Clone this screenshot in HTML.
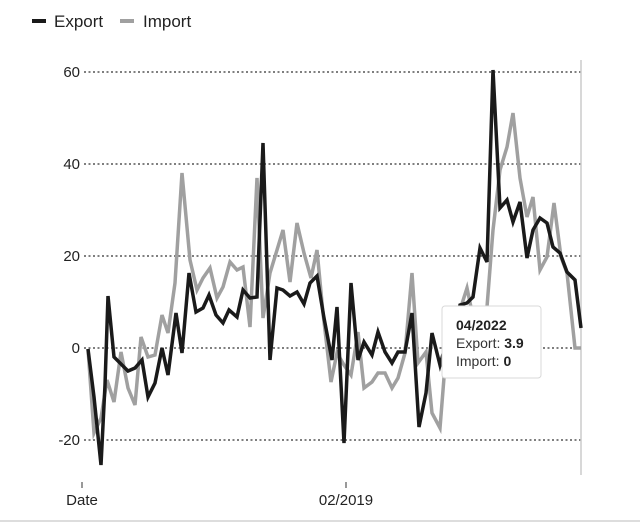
<!DOCTYPE html>
<html><head><style>body{margin:0;background:#fff;}svg{display:block;font-family:"Liberation Sans",sans-serif;}</style></head>
<body>
<svg width="640" height="523" viewBox="0 0 640 523">
<rect width="640" height="523" fill="#fff"/>
<line x1="32" y1="21" x2="46" y2="21" stroke="#1a1a1a" stroke-width="4"/>
<text x="54" y="27" font-size="17" fill="#222">Export</text>
<line x1="120" y1="21" x2="134" y2="21" stroke="#a0a0a0" stroke-width="4"/>
<text x="143" y="27" font-size="17" fill="#222">Import</text>
<g stroke="#333" stroke-width="1.2" stroke-dasharray="2,2.5">
<line x1="84" y1="72" x2="581" y2="72"/><line x1="84" y1="164" x2="581" y2="164"/><line x1="84" y1="256" x2="581" y2="256"/><line x1="84" y1="348" x2="581" y2="348"/><line x1="84" y1="440" x2="581" y2="440"/>
</g>
<g font-size="15" fill="#222" text-anchor="end">
<text x="80" y="77">60</text><text x="80" y="169">40</text><text x="80" y="261">20</text><text x="80" y="353">0</text><text x="80" y="445">-20</text>
</g>
<line x1="581" y1="60" x2="581" y2="475" stroke="#ccc" stroke-width="1.5"/>
<line x1="0" y1="521" x2="640" y2="521" stroke="#ddd" stroke-width="2"/>
<line x1="82" y1="482" x2="82" y2="488" stroke="#333"/>
<line x1="346" y1="482" x2="346" y2="488" stroke="#333"/>
<text x="82" y="505" font-size="15" fill="#222" text-anchor="middle">Date</text>
<text x="346" y="505" font-size="15" fill="#222" text-anchor="middle">02/2019</text>
<polyline fill="none" stroke="#a0a0a0" stroke-width="3.5" stroke-linejoin="miter" points="88,349 94,433 101,418 107,380 114,402 121,352 128,388 135,405 141,337 148,357 155,355 162,315 168,333 175,283 182,173 190,260 197,290 203,278 210,268 217,298 223,287 230,262 237,270 243,267 250,327 257,178 263,318 270,273 277,250 283,230 290,282 297,223 304,253 311,278 317,250 323,313 331,382 337,353 344,365 351,375 358,332 364,388 372,382 378,373 385,373 392,388 398,378 405,353 412,273 418,363 426,352 432,413 440,428 447,340 453,318 460,310 467,288 473,317 480,348 487,307 493,230 500,170 507,147 513,113 520,178 527,217 533,197 540,270 547,257 554,203 561,257 567,273 575,348 581,348"/>
<polyline fill="none" stroke="#1a1a1a" stroke-width="3.5" stroke-linejoin="miter" points="88,349 94,397 101,465 105,385 108,296 114,357 122,365 128,371 135,368 142,360 148,397 155,383 162,348 168,375 176,313 182,353 189,273 196,312 203,308 209,295 216,315 223,323 229,310 237,317 243,290 250,298 257,297 263,143 270,360 277,288 283,290 290,296 297,292 304,304 310,283 317,276 324,318 332,360 337,307 344,443 351,283 358,360 364,342 372,355 378,332 385,352 392,363 398,352 405,352 412,313 419,427 426,393 432,333 440,365 447,340 453,335 460,305 467,303 473,297 480,248 487,262 493,70 500,208 507,200 513,222 520,202 527,258 533,230 540,218 547,223 553,247 560,253 567,272 575,280 581,328"/>
<rect x="442" y="306" width="99" height="72" rx="3" fill="#fff" stroke="#d8d8d8" stroke-width="1"/>
<text x="456" y="330" font-size="14" font-weight="bold" fill="#222">04/2022</text>
<text x="456" y="348" font-size="14" fill="#333">Export: <tspan font-weight="bold" fill="#222">3.9</tspan></text>
<text x="456" y="366" font-size="14" fill="#333">Import: <tspan font-weight="bold" fill="#222">0</tspan></text>
</svg>
</body></html>
